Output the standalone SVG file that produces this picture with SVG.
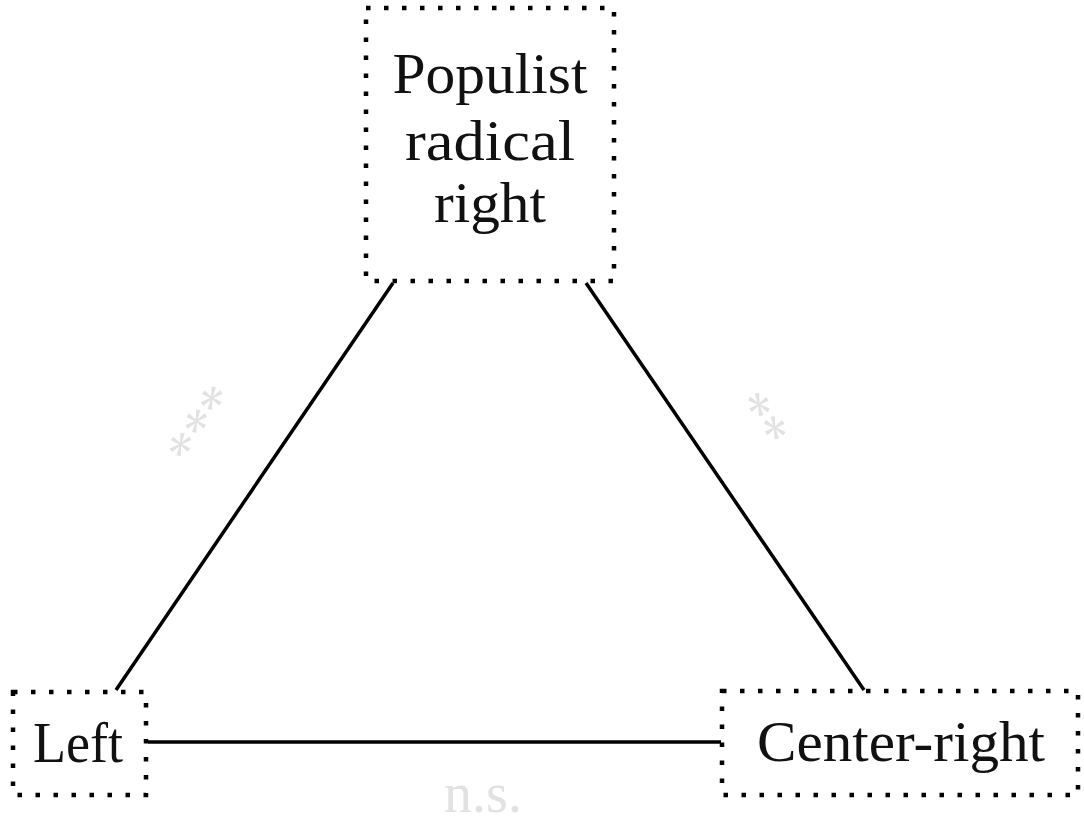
<svg xmlns="http://www.w3.org/2000/svg" width="1084" height="822" viewBox="0 0 1084 822">
<style>
.box{fill:none;stroke:#000;stroke-width:4.5;stroke-dasharray:4.5 13.5}
.lbl{font-family:"Liberation Serif","DejaVu Serif",serif;font-size:56px;fill:#111;text-anchor:middle}
.edge{stroke:#000;stroke-width:3.5;fill:none}
.sig{font-family:"Liberation Serif","DejaVu Serif",serif;font-size:56px;fill:#e2e2e2;text-anchor:middle}
</style>
<rect width="1084" height="822" fill="#fff"/>
<g id="connectors">
<line class="edge" x1="116" y1="690" x2="393" y2="283"/>
<line class="edge" x1="586" y1="283" x2="864" y2="690"/>
<line class="edge" x1="148" y1="742" x2="721" y2="742"/>
<text class="sig" transform="translate(218,436) rotate(-55.8)">***</text>
<text class="sig" transform="translate(745,431) rotate(55.8)">**</text>
<text class="sig" x="483" y="812">n.s.</text>
</g>
<g id="prr">
<rect class="box" x="366" y="8" width="248" height="273"/>
<text class="lbl" x="490" y="93" textLength="195" lengthAdjust="spacingAndGlyphs">Populist</text>
<text class="lbl" x="490" y="160" textLength="170" lengthAdjust="spacingAndGlyphs">radical</text>
<text class="lbl" x="490" y="222" textLength="112" lengthAdjust="spacingAndGlyphs">right</text>
</g>
<g id="left">
<rect class="box" x="13" y="692" width="133" height="103"/>
<text class="lbl" x="78" y="762" textLength="90" lengthAdjust="spacingAndGlyphs">Left</text>
</g>
<g id="centerright">
<rect class="box" x="722" y="691" width="356" height="104"/>
<text class="lbl" x="901" y="761" textLength="288" lengthAdjust="spacingAndGlyphs">Center-right</text>
</g>
</svg>
